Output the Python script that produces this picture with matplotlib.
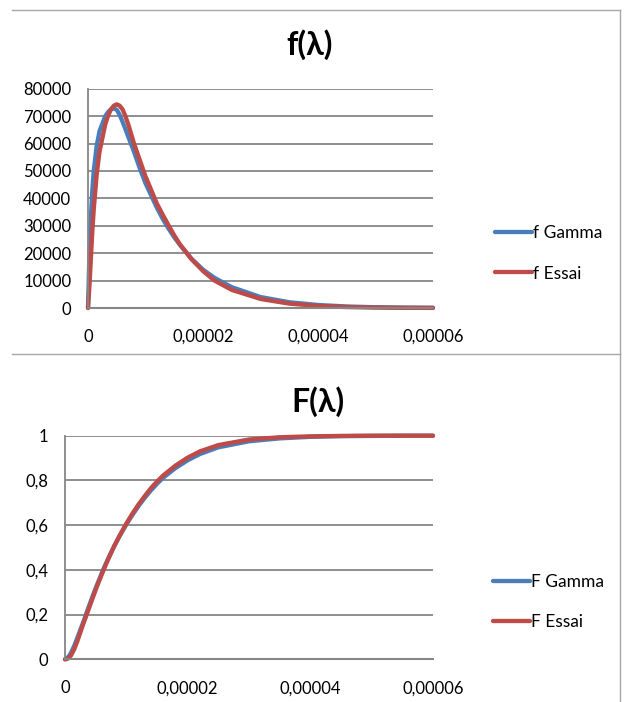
import matplotlib
matplotlib.use("Agg")
import matplotlib.pyplot as plt
from matplotlib.lines import Line2D

# valeurs (x en 1e-6)
x_micro = [0, 0.25, 0.5, 0.75, 1, 1.5, 2, 3, 3.5, 4, 4.5, 5, 5.5, 6, 6.5, 7, 8,
           9, 10, 11, 12, 13, 14, 15, 16, 18, 20, 22, 25, 30, 35, 40, 45, 50,
           55, 60]
lam = [v * 1e-6 for v in x_micro]

f_gamma = [0, 20000, 33000, 43000, 50000, 59000, 64500, 70000, 71500, 72500,
           72800, 72300, 70500, 68000, 65300, 62500, 57000, 51000, 45500,
           41000, 36500, 32500, 29000, 25800, 23000, 18000, 14000, 11000,
           7600, 4000, 2100, 1100, 550, 280, 140, 70]
f_essai = [0, 8000, 18000, 28000, 36000, 48500, 57000, 67000, 70200, 72500,
           73800, 74300, 73800, 72500, 70000, 67000, 60000, 54000, 48000,
           43000, 38000, 34000, 30200, 26500, 23200, 17800, 13500, 10000,
           6600, 3300, 1600, 750, 350, 160, 75, 35]

F_gamma = [0, 0.003, 0.01, 0.018, 0.03, 0.06, 0.095, 0.168, 0.207, 0.245,
           0.282, 0.318, 0.352, 0.386, 0.418, 0.448, 0.505, 0.556, 0.603,
           0.646, 0.686, 0.722, 0.755, 0.785, 0.812, 0.855, 0.89, 0.918,
           0.948, 0.975, 0.988, 0.995, 0.998, 0.999, 1, 1]
F_essai = [0, 0.001, 0.004, 0.01, 0.018, 0.045, 0.08, 0.16, 0.197, 0.235,
           0.273, 0.31, 0.346, 0.38, 0.413, 0.445, 0.505, 0.558, 0.607,
           0.652, 0.693, 0.73, 0.765, 0.795, 0.822, 0.866, 0.902, 0.93,
           0.958, 0.983, 0.993, 0.997, 0.999, 1, 1, 1]

x_ticks = [0, 0.00002, 0.00004, 0.00006]
x_labels = ["0", "0,00002", "0,00004", "0,00006"]
y_top_ticks = [0, 10000, 20000, 30000, 40000, 50000, 60000, 70000, 80000]
y_bot_ticks = [0, 0.2, 0.4, 0.6, 0.8, 1]
y_bot_labels = ["0", "0,2", "0,4", "0,6", "0,8", "1"]

BLUE = "#4A7EBB"
RED = "#BE4B48"
GRID = "#868686"

plt.rcParams["font.family"] = ["Lato", "DejaVu Sans"]

fig = plt.figure(figsize=(6.28, 7.02), dpi=100)


def style_axes(ax, yticks, ylabels):
    ax.set_xlim(0, 0.00006)
    ax.set_xticks(x_ticks)
    ax.set_xticklabels(x_labels)
    ax.set_yticks(yticks)
    ax.set_yticklabels(ylabels)
    ax.set_ylim(yticks[0], yticks[-1])
    ax.grid(axis="y", color=GRID, linewidth=1.3)
    ax.set_axisbelow(True)
    for s in ["top", "right"]:
        ax.spines[s].set_visible(False)
    ax.spines["left"].set_color(GRID)
    ax.spines["bottom"].set_color(GRID)
    ax.spines["left"].set_linewidth(1.3)
    ax.spines["bottom"].set_linewidth(1.5)
    ax.tick_params(axis="y", length=0, pad=12, labelsize=12)
    ax.tick_params(axis="x", length=0, pad=15, labelsize=12)


# --- f(lambda)
ax1 = fig.add_axes([88 / 628, 1 - 308 / 702, 345 / 628, 219.3 / 702])
ax1.plot(lam, f_gamma, color=BLUE, lw=3.1, label="f Gamma", clip_on=False,
         solid_capstyle="round")
ax1.plot(lam, f_essai, color=RED, lw=3.1, label="f Essai", clip_on=False,
         solid_capstyle="round")
style_axes(ax1, y_top_ticks, [str(v) for v in y_top_ticks])
fig.text(310 / 628, 1 - 45 / 702, "f(λ)", ha="center", va="center",
         fontsize=23, fontweight="bold")
ax1.legend(loc="center left", bbox_to_anchor=(1.133, 0.249), frameon=False,
           fontsize=12.5, handlelength=2.15, handletextpad=0.05,
           labelspacing=1.4)

# --- F(lambda)
ax2 = fig.add_axes([65 / 628, 1 - 659.3 / 702, 368 / 628, 223.6 / 702])
ax2.plot(lam, F_gamma, color=BLUE, lw=3.1, label="F Gamma", clip_on=False,
         solid_capstyle="round")
ax2.plot(lam, F_essai, color=RED, lw=3.1, label="F Essai", clip_on=False,
         solid_capstyle="round")
style_axes(ax2, y_bot_ticks, y_bot_labels)
fig.text(318 / 628, 1 - 402 / 702, "F(λ)", ha="center", va="center",
         fontsize=23, fontweight="bold")
ax2.legend(loc="center left", bbox_to_anchor=(1.12, 0.256), frameon=False,
           fontsize=12.5, handlelength=2.15, handletextpad=0.05,
           labelspacing=1.4)

# bordures des zones de graphique
border = "#A6A6A6"
fig.add_artist(Line2D([12 / 628, 620 / 628], [1 - 10 / 702, 1 - 10 / 702],
                      color=border, lw=1.0, transform=fig.transFigure))
fig.add_artist(Line2D([620 / 628, 620 / 628], [1 - 10 / 702, 1 - 354 / 702],
                      color=border, lw=1.0, transform=fig.transFigure))
fig.add_artist(Line2D([12 / 628, 620 / 628], [1 - 354 / 702, 1 - 354 / 702],
                      color=border, lw=1.0, transform=fig.transFigure))
fig.add_artist(Line2D([620 / 628, 620 / 628], [1 - 354 / 702, 0],
                      color=border, lw=1.0, transform=fig.transFigure))

fig.savefig("out.png", dpi=100)
